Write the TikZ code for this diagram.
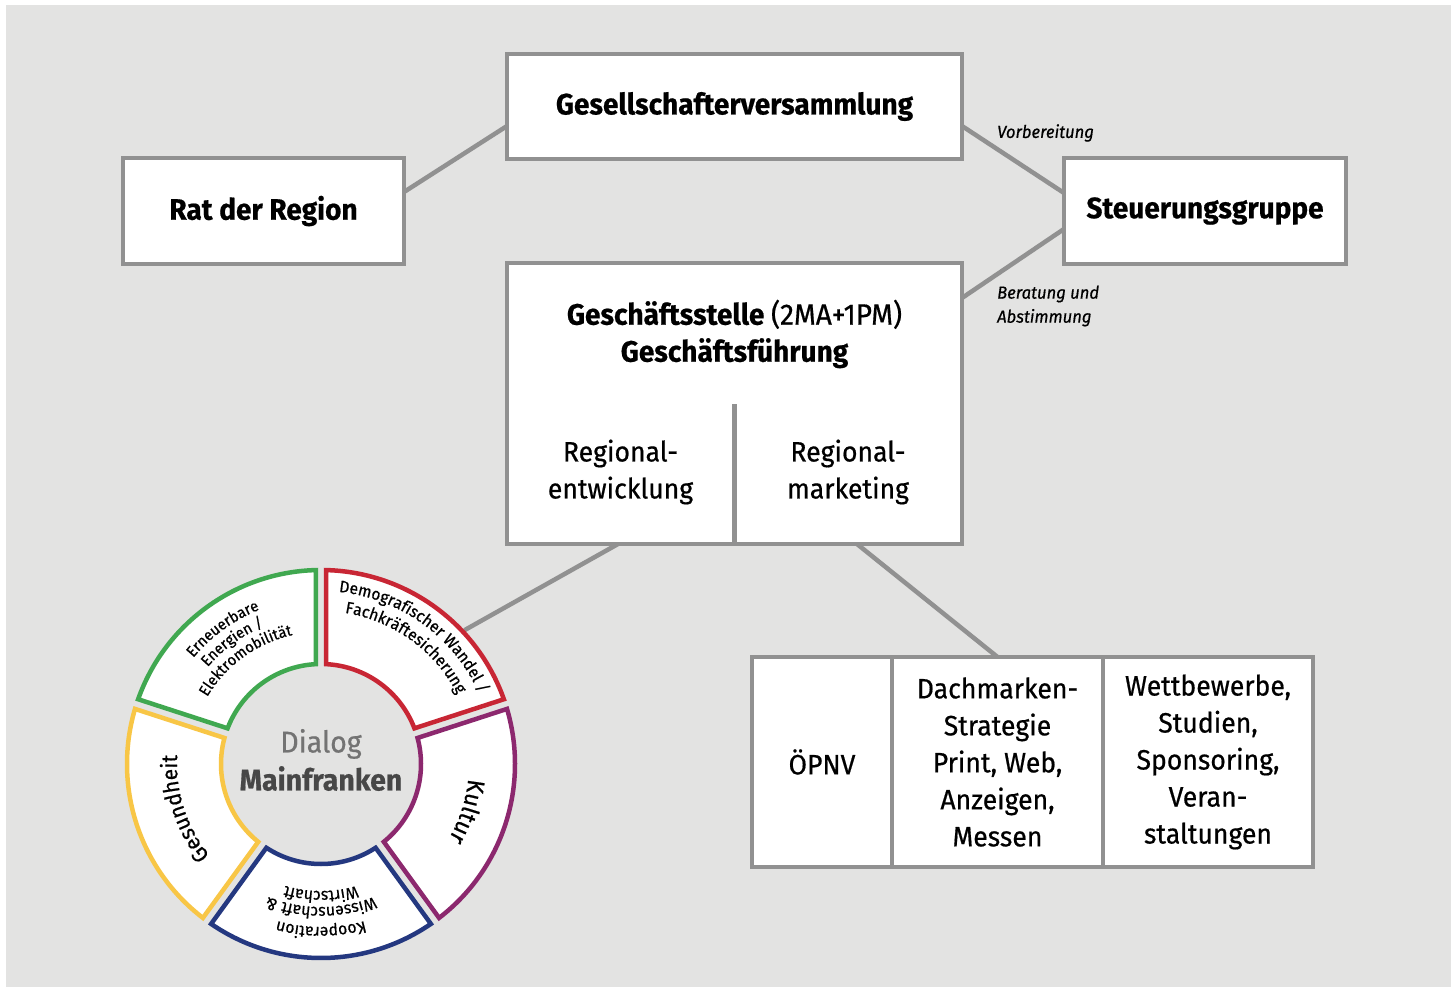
\documentclass[tikz,border=0pt]{standalone}
\usepackage{fontspec}
\setmainfont{Fira Sans}[FakeStretch=0.95, FakeBold=0.6]
\usepackage{tikz}
\usetikzlibrary{decorations.text}
\definecolor{bggray}{RGB}{227,227,226}
\definecolor{lgray}{RGB}{145,145,145}
\definecolor{cgreen}{RGB}{64,168,80}
\definecolor{cred}{RGB}{200,38,52}
\definecolor{cpurple}{RGB}{140,40,110}
\definecolor{cblue}{RGB}{36,56,128}
\definecolor{cyellow}{RGB}{248,198,70}
\tikzset{
	box/.style={draw=lgray, line width=4.5pt, fill=white, inner sep=0pt, outer sep=0pt},
	title/.style={font=\fontsize{29.5}{37}\selectfont\bfseries, align=center},
	cell/.style={font=\fontsize{28}{37}\selectfont, align=center},
	conn/.style={draw=lgray, line width=4.5pt},
	note/.style={font=\fontsize{17.5}{24}\selectfont\itshape, align=left, anchor=west, inner sep=0pt},
	seg/.style={line width=4.5pt, fill=white}
}
\def\segment[#1](#2:#3){\draw[seg, draw=#1] ({#2+1.5}:194) arc[start angle={#2+1.5}, end angle={#3-1.5}, radius=194] -- ({#3-2.9}:100) arc[start angle={#3-2.9}, end angle={#2+2.9}, radius=100] -- cycle;}
\def\arclabel[#1](#2:#3:#4)#5{\path[decorate, decoration={text along path, text align=center, text={|#1|#5}}] (#2:#4) arc[start angle=#2, end angle=#3, radius=#4];}

\begin{document}
\begin{tikzpicture}[x=1pt, y=-1pt]
			%%%%% START %%%%%
			
			\useasboundingbox (0,0) rectangle (1451,987);
			\fill[white] (0,0) rectangle (1451,987);
			\fill[bggray] (6,5) rectangle (1451,987);
			
			\node[box, title, minimum width=455, minimum height=105] (gv) at (734.5,106.5) {Gesellschafterversammlung};
			\node[box, title, minimum width=281, minimum height=106] (rat) at (263.5,211) {Rat der Region};
			\node[box, title, minimum width=282, minimum height=106] (steu) at (1205,211) {Steuerungsgruppe};
			
			\node[box, minimum width=455, minimum height=281] (gs) at (734.5,403.5) {};
			\node[title] (gsname) at (734.5,334) {Geschäftsstelle {\mdseries(2MA+1PM)}\\Geschäftsführung};
			\node[cell] (regent) at (620.5,472) {Regional-\\entwicklung};
			\node[cell] (regmark) at (848,472) {Regional-\\marketing};
			\draw[conn] (gs.south) -- ++(0,-140);
			
			\node[box, cell, minimum width=140, minimum height=210] (oepnv) at (822,762) {ÖPNV};
			\node[box, cell, minimum width=211, minimum height=210] (dach) at (997.5,762) {Dachmarken-\\Strategie\\Print, Web,\\Anzeigen,\\Messen};
			\node[box, cell, minimum width=210, minimum height=210] (wett) at (1208,762) {Wettbewerbe,\\Studien,\\Sponsoring,\\Veran-\\staltungen};
			
			\node[circle, minimum size=392, inner sep=0pt] (dialog) at (321,764) {};
			
			% Verbindungen
			\draw[conn] ([yshift=19]rat.east) -- ([yshift=-19.5]gv.west);
			\draw[conn] ([yshift=-19.5]gv.east) -- ([yshift=18]steu.west);
			\draw[conn] ([yshift=105.5]gs.east) -- ([yshift=-18]steu.west);
			\draw[conn] ([xshift=-116.5]gs.south) -- (dialog.43);
			\draw[conn] ([xshift=122.5]gs.south) -- (dach.north);
			
			\node[note] (vorb) at (997,133) {Vorbereitung};
			\node[note] (berat) at (997,306) {Beratung und\\Abstimmung};
			
			% Dialog Mainfranken
			\begin{scope}[shift={(321pt,-764pt)}, y=1pt]
				\segment[cred](18:90)
				\segment[cgreen](90:162)
				\segment[cyellow](162:234)
				\segment[cblue](234:306)
				\segment[cpurple](306:378)
				
				\node[align=center, font=\fontsize{30}{38}\selectfont] (dtext) at (0,4) {\textcolor{black!55}{Dialog}\\\textcolor{black!72}{\bfseries Mainfranken}};
				
				\arclabel[\fontsize{15.5}{15.5}\selectfont](160:92:166){Erneuerbare}
				\arclabel[\fontsize{15.5}{15.5}\selectfont](160:92:149){Energien /}
				\arclabel[\fontsize{15.5}{15.5}\selectfont](160:92:132){Elektromobilität}
				\arclabel[\fontsize{16.5}{16.5}\selectfont](88:20:173){Demografischer Wandel /}
				\arclabel[\fontsize{16.5}{16.5}\selectfont](88:20:153){Fachkräftesicherung}
				\arclabel[\fontsize{24}{24}\selectfont](16:-52:148){Kultur}
				\arclabel[\fontsize{16.5}{16.5}\selectfont](304:236:163){Kooperation}
				\arclabel[\fontsize{16.5}{16.5}\selectfont](304:236:143){Wissenschaft {\&}}
				\arclabel[\fontsize{16.5}{16.5}\selectfont](304:236:127){Wirtschaft}
				\arclabel[\fontsize{22}{22}\selectfont](232:164:144){Gesundheit}
			\end{scope}
			
			%%%%% END %%%%%
\end{tikzpicture}
\end{document}
